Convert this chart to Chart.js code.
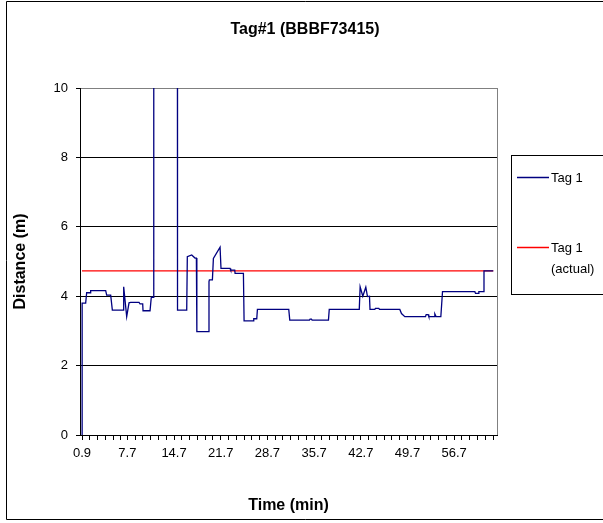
<!DOCTYPE html>
<html>
<head>
<meta charset="utf-8">
<script src="https://cdn.jsdelivr.net/npm/chart.js@4.4.1/dist/chart.umd.min.js"></script>
<style>
  html, body { margin: 0; padding: 0; background: #fff; }
  #wrap { width: 603px; height: 523px; }
</style>
</head>
<body>
<div id="wrap"><canvas id="chart" width="603" height="523"></canvas></div>
<script>
// time (min) of each vertex of the Tag 1 trace
const timesMin = [
  0.9, 0.92, 1.45, 1.6, 2.1, 2.2, 4.45, 4.6, 5.2, 5.45,
  7.1, 7.15, 7.6, 7.95, 8.2, 9.45, 9.6, 10.0, 10.05, 11.1,
  11.29, 11.55, 11.66, 15.2, 15.22, 16.6, 16.69, 17.35, 17.84, 18.05,
  18.12, 19.84, 19.94, 20.0, 20.45, 20.6, 21.6, 21.74, 23.1, 23.2,
  23.8, 23.85, 25.1, 25.2, 26.58, 26.65, 27.1, 27.2, 31.9, 32.05,
  35.0, 35.1, 35.3, 35.4, 37.85, 37.97, 42.47, 42.6, 43.0, 43.45,
  43.7, 44.0, 44.08, 44.8, 44.9, 45.4, 45.5, 48.55, 48.8, 49.3,
  52.4, 52.5, 52.8, 52.9, 53.7, 53.8, 54.0, 54.7, 54.95, 59.8,
  59.9, 60.3, 60.4, 61.05, 61.17, 62.56
];
// distance (m) at those times
const tag1Distance = [
  0, 3.8, 3.8, 4.1, 4.1, 4.16, 4.16, 4.03, 4.03, 3.6,
  3.6, 4.27, 3.41, 3.81, 3.82, 3.82, 3.78, 3.78, 3.58, 3.58,
  3.97, 3.97, 15, 15, 3.6, 3.6, 5.14, 5.19, 5.1, 5.1,
  2.98, 2.98, 4.42, 4.47, 4.47, 5.09, 5.41, 4.8, 4.8, 4.75,
  4.75, 4.66, 4.66, 3.29, 3.29, 3.35, 3.35, 3.62, 3.62, 3.31,
  3.31, 3.34, 3.34, 3.31, 3.31, 3.62, 3.62, 4.27, 4.0, 4.26,
  3.99, 4.0, 3.62, 3.62, 3.65, 3.65, 3.62, 3.62, 3.5, 3.41,
  3.41, 3.47, 3.47, 3.41, 3.41, 3.49, 3.41, 3.41, 4.13, 4.13,
  4.08, 4.08, 4.13, 4.13, 4.73, 4.73
];
const tag1Actual = 4.73;
const tickLabels = [0.9, 7.7, 14.7, 21.7, 28.7, 35.7, 42.7, 49.7, 56.7];
const seriesNames = ['Tag 1', 'Tag 1 (actual)'];
const seriesColors = ['#000080', '#ff0000'];
const chartTitle = 'Tag#1 (BBBF73415)';

const FONT = 'Liberation Sans, Arial, sans-serif';

const tagPoints = timesMin.map((t, i) => ({ x: t, y: tag1Distance[i] }));
const actualPoints = [
  { x: timesMin[0], y: tag1Actual },
  { x: timesMin[timesMin.length - 1], y: tag1Actual }
];

const framePlugin = {
  id: 'frame',
  beforeDraw(chart) {
    const ctx = chart.ctx;
    ctx.save();
    ctx.fillStyle = '#fff';
    ctx.fillRect(0, 0, chart.width, chart.height);
    ctx.strokeStyle = '#000';
    ctx.lineWidth = 1;
    ctx.beginPath();
    ctx.moveTo(620, 1.5); ctx.lineTo(6.5, 1.5); ctx.lineTo(6.5, 519.5); ctx.lineTo(620, 519.5);
    ctx.stroke();
    // chart title, centred on the whole chart box
    ctx.fillStyle = '#000';
    ctx.font = 'bold 16px ' + FONT;
    ctx.textAlign = 'center';
    ctx.textBaseline = 'middle';
    ctx.fillText(chartTitle, 305, 30);
    ctx.restore();
  },
  afterDraw(chart) {
    const ctx = chart.ctx;
    const a = chart.chartArea;
    ctx.save();
    ctx.fillStyle = '#808080';
    ctx.fillRect(Math.round(a.right), a.top, 1, a.bottom - a.top);

    // legend box
    ctx.strokeStyle = '#000';
    ctx.lineWidth = 1;
    ctx.strokeRect(511.5, 155.5, 110, 139);
    ctx.font = '13px ' + FONT;
    ctx.textBaseline = 'middle';
    ctx.textAlign = 'left';
    const rows = [177, 247];
    seriesNames.forEach((name, i) => {
      ctx.strokeStyle = seriesColors[i];
      ctx.lineWidth = 1.5;
      ctx.beginPath();
      ctx.moveTo(517, rows[i] + 0.5);
      ctx.lineTo(549, rows[i] + 0.5);
      ctx.stroke();
      ctx.fillStyle = '#000';
      // wrap label to the narrow legend width
      const words = name.split(' ');
      const lines = [];
      let cur = '';
      words.forEach(w => {
        const test = cur ? cur + ' ' + w : w;
        if (cur && ctx.measureText(test).width > 50) { lines.push(cur); cur = w; }
        else cur = test;
      });
      lines.push(cur);
      lines.forEach((ln, k) => ctx.fillText(ln, 551, rows[i] + 1 + k * 21));
    });
    ctx.restore();
  }
};

new Chart(document.getElementById('chart'), {
  type: 'line',
  data: {
    datasets: [
      {
        label: seriesNames[0],
        data: tagPoints,
        borderColor: seriesColors[0],
        borderWidth: 1.3,
        pointRadius: 0,
        tension: 0,
        clip: 0
      },
      {
        label: seriesNames[1],
        data: actualPoints,
        borderColor: seriesColors[1],
        borderWidth: 1.3,
        pointRadius: 0,
        clip: 0
      }
    ]
  },
  options: {
    responsive: false,
    animation: false,
    layout: { padding: { left: 8, right: 106, top: 88, bottom: 0 } },
    plugins: {
      legend: { display: false },
      tooltip: { enabled: false },
      title: { display: false }
    },
    scales: {
      x: {
        type: 'linear',
        min: 0.6,
        max: 63.12,
        afterBuildTicks(scale) {
          const ticks = [];
          const step = (tickLabels[2] - tickLabels[1]) / 6;
          tickLabels.forEach((v, i) => {
            ticks.push({ value: v });
            const next = i < tickLabels.length - 1 ? tickLabels[i + 1] : scale.max;
            for (let k = 1; v + k * step < next - 0.05; k++) ticks.push({ value: v + k * step });
          });
          scale.ticks = ticks;
        },
        afterFit(scale) { scale.height = 88; },
        ticks: {
          autoSkip: false,
          maxRotation: 0,
          padding: 6,
          color: '#000',
          font: { family: FONT, size: 13 },
          callback: (v) => tickLabels.indexOf(v) >= 0 ? v.toFixed(1) : ''
        },
        grid: { drawOnChartArea: false, drawTicks: true, tickLength: 5, color: '#000' },
        border: { color: '#000', width: 1 },
        title: {
          display: true,
          text: 'Time (min)',
          color: '#000',
          font: { family: FONT, size: 16, weight: 'bold' },
          padding: { top: 0, bottom: 8 }
        }
      },
      y: {
        min: 0,
        max: 10,
        afterFit(scale) { scale.width = 72; },
        ticks: {
          stepSize: 2,
          padding: 8,
          color: '#000',
          font: { family: FONT, size: 13 }
        },
        grid: {
          tickLength: 4,
          color: (c) => c.tick && c.tick.value === 10 ? '#808080' : '#000',
          tickColor: '#000'
        },
        border: { color: '#000', width: 1 },
        title: {
          display: true,
          text: 'Distance (m)',
          color: '#000',
          font: { family: FONT, size: 16, weight: 'bold' },
          padding: { top: 3, bottom: 0 }
        }
      }
    }
  },
  plugins: [framePlugin]
});
</script>
</body>
</html>
